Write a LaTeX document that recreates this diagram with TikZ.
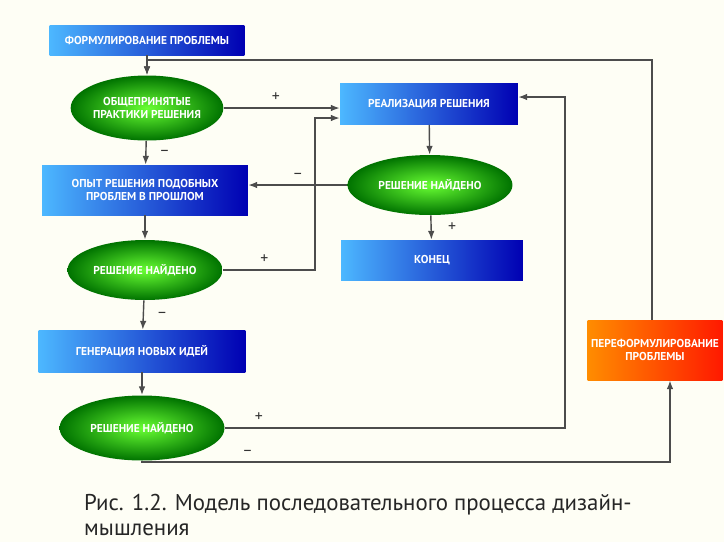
\documentclass[tikz,border=0pt]{standalone}
\usepackage{fontspec}
\setmainfont{PT Sans}
\usetikzlibrary{
    positioning,
    shapes.geometric,
    arrows.meta
    }

\begin{document}
\begin{tikzpicture}[x=0.02cm, y=-0.02cm]
\tikzset{stage/.style =
        {
            rectangle,
            left color=cyan!60!blue!70,
            right color=blue!70!black,
            text=white,
            font=\fontsize{6.5}{7.5}\selectfont\bfseries,
            align=center,
            inner sep=0pt
        }
}

\tikzset{check/.style =
        {
            ellipse,
            inner color=green!65!lime!80,
            outer color=green!45!black,
            text=white,
            font=\fontsize{6.5}{7.5}\selectfont\bfseries,
            align=center,
            inner sep=0pt
        }
}

\tikzset{redo/.style =
        {
            stage,
            left color=orange!90!yellow,
            right color=red!80!orange
        }
}

\tikzset{flow/.style = {
            thick,
            gray!60!black,
            -{Latex[length=5pt]}
        }
}

\tikzset{sign/.style = {font=\small, text=black!80}}

        \fill[black!8!yellow!4!white] (0,0) rectangle (724,542);

        \node[stage, minimum width=3.9cm, minimum height=0.6cm] (formulate) at (147,40) {ФОРМУЛИРОВАНИЕ ПРОБЛЕМЫ};
        \node[check, minimum width=3cm, minimum height=1.3cm] (common) at (147,108) {ОБЩЕПРИНЯТЫЕ\\ПРАКТИКИ РЕШЕНИЯ};
        \node[stage, minimum width=3.56cm, minimum height=0.82cm] (realize) at (429,104) {РЕАЛИЗАЦИЯ РЕШЕНИЯ};
        \node[stage, minimum width=4.12cm, minimum height=1cm] (past) at (145,190) {ОПЫТ РЕШЕНИЯ ПОДОБНЫХ\\ПРОБЛЕМ В ПРОШЛОМ};
        \node[check, minimum width=3.3cm, minimum height=1.2cm] (found1) at (430,185) {РЕШЕНИЕ НАЙДЕНО};
        \node[check, minimum width=3.1cm, minimum height=1.2cm] (found2) at (145,270) {РЕШЕНИЕ НАЙДЕНО};
        \node[stage, minimum width=3.64cm, minimum height=0.8cm] (finish) at (432,260) {КОНЕЦ};
        \node[stage, minimum width=4.14cm, minimum height=0.84cm] (ideas) at (142,351) {ГЕНЕРАЦИЯ НОВЫХ ИДЕЙ};
        \node[check, minimum width=3.3cm, minimum height=1.3cm] (found3) at (142,428) {РЕШЕНИЕ НАЙДЕНО};
        \node[redo, minimum width=2.7cm, minimum height=1.2cm] (reform) at (655,350) {ПЕРЕФОРМУЛИРОВАНИЕ\\ПРОБЛЕМЫ};

        \coordinate (topline) at (147,60);

        \draw[flow] (formulate) -- (common);
        \draw[flow] (common.east) -- node[sign, above, pos=0.45] {+} (realize.west |- common.east);
        \draw[flow] (common) -- node[sign, right=4pt] {--} (past);
        \draw[flow] (realize) -- (found1);
        \draw[flow] (found1) -- node[sign, above] {--} (past.east |- found1);
        \draw[flow] (found1) -- node[sign, right=6pt] {+} (finish);
        \draw[flow] (past) -- (found2);
        \draw[flow] (found2.east) -- node[sign, above, pos=0.45] {+} (315,270) |- (realize.west |- 0,118);
        \draw[flow] (found2) -- node[sign, right=4pt] {--} (ideas);
        \draw[flow] (ideas) -- (found3);
        \draw[flow] (found3.east) -- node[sign, above, pos=0.1] {+} (565,428) |- (realize.east |- 0,97);
        \draw[flow] (found3.south) -- (142,462) -- node[sign, above, pos=0.2] {--} (670,462) -- (reform.south -| 670,0);
        \draw[flow] (reform.north -| 652,0) |- (topline) -- (common.north);

        \node[anchor=north west, align=left, font=\fontsize{13}{14}\selectfont, text=black!85] (caption) at (78,488) {Рис. 1.2. Модель последовательного процесса дизайн-\\мышления};
\end{tikzpicture}
\end{document}
